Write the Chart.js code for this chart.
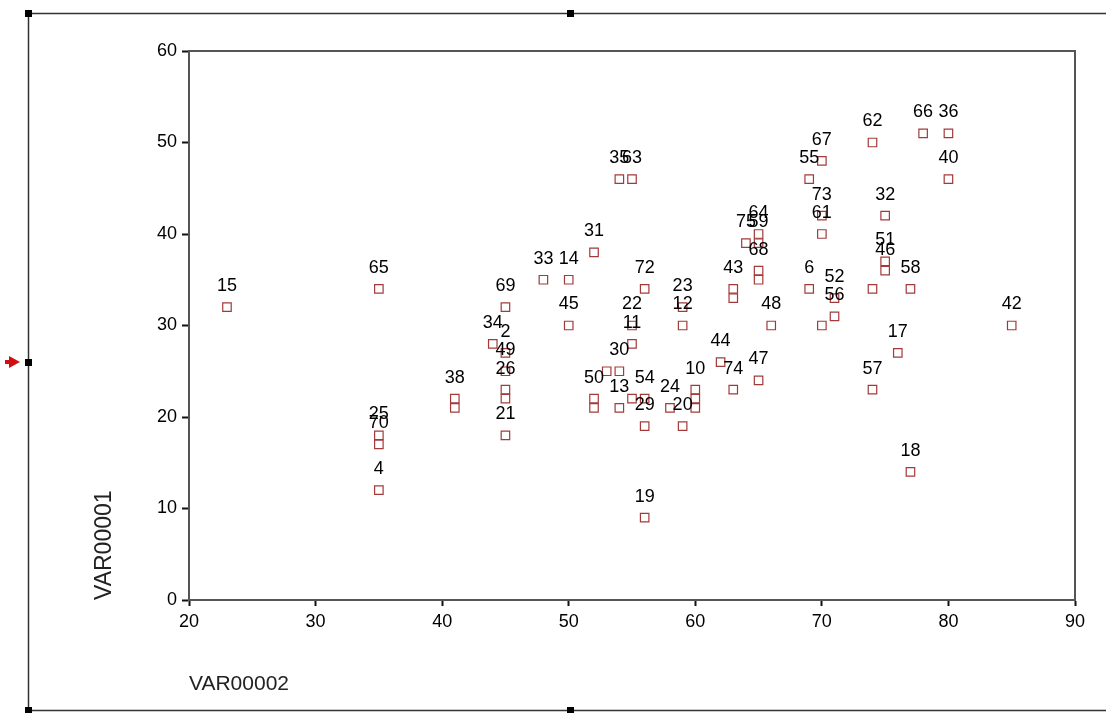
<!DOCTYPE html>
<html>
<head>
<meta charset="utf-8">
<title>VAR00001 vs VAR00002</title>
<script src="https://cdn.jsdelivr.net/npm/chart.js@4.4.1/dist/chart.umd.min.js"></script>
<style>
  html, body { margin: 0; padding: 0; background: #fff; }
  canvas { display: block; }
</style>
</head>
<body>
<canvas id="scatterChart" width="1106" height="713"></canvas>
<script>
// case numbers ('' = label hidden under another one in the original)
const caseLabels = ['15', '65', '25', '70', '4', '38', '', '34', '2', '49', '26', '', '69', '21',
    '33', '14', '45', '31', '50', '', '', '30', '35', '63', '13', '22', '11', '', '54', '29',
    '19', '72', '24', '23', '12', '20', '10', '', '', '44', '43', '', '74', '75', '59', '64',
    '68', '', '47', '48', '6', '55', '67', '73', '61', '', '52', '56', '62', '', '57', '32',
    '51', '46', '17', '58', '18', '66', '36', '40', '42'];

// VAR00002 (x)
const var2 = [23, 35, 35, 35, 35, 41, 41, 44, 45, 45, 45, 45, 45, 45,
    48, 50, 50, 52, 52, 52, 53, 54, 54, 55, 54, 55, 55, 55, 56, 56,
    56, 56, 58, 59, 59, 59, 60, 60, 60, 62, 63, 63, 63, 64, 65, 65,
    65, 65, 65, 66, 69, 69, 70, 70, 70, 70, 71, 71, 74, 74, 74, 75,
    75, 75, 76, 77, 77, 78, 80, 80, 85];

// VAR00001 (y)
const var1 = [32, 34, 18, 17, 12, 22, 21, 28, 27, 25, 23, 22, 32, 18,
    35, 35, 30, 38, 22, 21, 25, 25, 46, 46, 21, 30, 28, 22, 22, 19,
    9, 34, 21, 32, 30, 19, 23, 22, 21, 26, 34, 33, 23, 39, 39, 40,
    36, 35, 24, 30, 34, 46, 48, 42, 40, 30, 33, 31, 50, 34, 23, 42,
    37, 36, 27, 34, 14, 51, 51, 46, 30];

const xTicks = [20, 30, 40, 50, 60, 70, 80, 90];
const yTicks = [0, 10, 20, 30, 40, 50, 60];

const FONT = "'Liberation Sans', Arial, Helvetica, sans-serif";
Chart.defaults.font.family = FONT;

// white page, outer frame with selection handles, plot box, case labels
const decorPlugin = {
    id: 'decor',
    beforeDraw(chart) {
        const ctx = chart.ctx;
        ctx.save();
        ctx.fillStyle = '#fff';
        ctx.fillRect(0, 0, chart.width, chart.height);
        ctx.restore();
    },
    afterDraw(chart) {
        const ctx = chart.ctx;
        const a = chart.chartArea;
        ctx.save();

        // plot box (top and right sides)
        ctx.strokeStyle = '#555';
        ctx.lineWidth = 2;
        ctx.beginPath();
        ctx.moveTo(a.left, a.top);
        ctx.lineTo(a.right, a.top);
        ctx.lineTo(a.right, a.bottom);
        ctx.stroke();

        // outer object frame
        ctx.strokeStyle = '#333';
        ctx.lineWidth = 1.5;
        ctx.beginPath();
        ctx.moveTo(chart.width, 13.5);
        ctx.lineTo(28.5, 13.5);
        ctx.lineTo(28.5, 710.5);
        ctx.lineTo(chart.width, 710.5);
        ctx.stroke();

        ctx.fillStyle = '#000';
        [[28, 13], [570, 13], [28, 362], [28, 710], [570, 710]].forEach(function (h) {
            ctx.fillRect(h[0] - 3, h[1] - 3, 7, 7);
        });

        // red arrow marker on the left edge
        ctx.fillStyle = '#d01010';
        ctx.beginPath();
        ctx.moveTo(9, 356);
        ctx.lineTo(20, 362);
        ctx.lineTo(9, 368);
        ctx.closePath();
        ctx.fill();
        ctx.fillRect(5, 360, 6, 4);

        ctx.restore();
    },
    afterDatasetsDraw(chart) {
        const ctx = chart.ctx;
        const meta = chart.getDatasetMeta(0);
        ctx.save();
        ctx.font = '18px ' + FONT;
        ctx.fillStyle = '#000';
        ctx.textAlign = 'center';
        ctx.textBaseline = 'middle';
        meta.data.forEach(function (pt, i) {
            if (caseLabels[i]) {
                ctx.fillText(caseLabels[i], pt.x, pt.y - 21);
            }
        });
        ctx.restore();
    }
};

const points = var2.map(function (x, i) {
    return { x: x, y: var1[i] };
});

new Chart(document.getElementById('scatterChart').getContext('2d'), {
    type: 'scatter',
    data: {
        datasets: [{
            label: 'VAR00001',
            data: points,
            pointStyle: 'rect',
            pointRadius: 6,
            pointBorderWidth: 1.2,
            pointBorderColor: '#a33a3a',
            pointBackgroundColor: '#ffffff'
        }]
    },
    options: {
        responsive: false,
        animation: false,
        devicePixelRatio: 1,
        layout: { padding: { left: 0, top: 51, right: 31, bottom: 0 } },
        plugins: {
            legend: { display: false },
            tooltip: { enabled: false }
        },
        scales: {
            x: {
                type: 'linear',
                min: 20,
                max: 90,
                afterBuildTicks: function (axis) {
                    axis.ticks = xTicks.map(function (v) { return { value: v }; });
                },
                afterFit: function (axis) { axis.height = 113; },
                grid: { drawOnChartArea: false, drawTicks: true, tickLength: 6, tickWidth: 2, color: '#111' },
                border: { display: true, color: '#555', width: 2 },
                ticks: { color: '#000', font: { size: 18 }, padding: 5, maxRotation: 0 },
                title: {
                    display: true,
                    text: 'VAR00002',
                    align: 'start',
                    color: '#222',
                    font: { size: 21 },
                    padding: { top: 0, bottom: 16 }
                }
            },
            y: {
                type: 'linear',
                min: 0,
                max: 60,
                afterBuildTicks: function (axis) {
                    axis.ticks = yTicks.map(function (v) { return { value: v }; });
                },
                afterFit: function (axis) { axis.width = 189; },
                grid: { drawOnChartArea: false, drawTicks: true, tickLength: 7, tickWidth: 2, color: '#111' },
                border: { display: true, color: '#555', width: 2 },
                ticks: { color: '#000', font: { size: 18 }, padding: 5 },
                title: {
                    display: true,
                    text: 'VAR00001',
                    align: 'start',
                    color: '#222',
                    font: { size: 23 },
                    padding: { top: 91, bottom: 0 }
                }
            }
        }
    },
    plugins: [decorPlugin]
});
</script>
</body>
</html>
